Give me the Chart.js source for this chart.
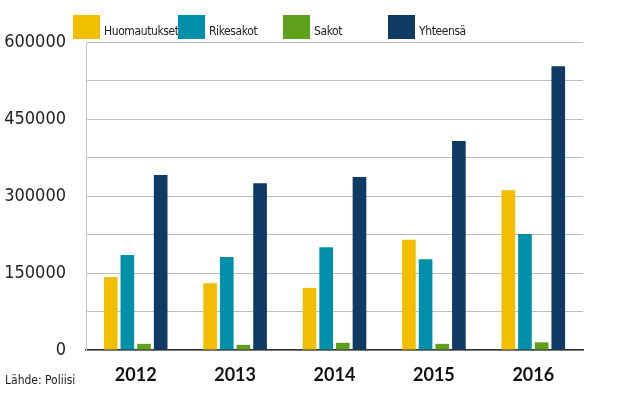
<!DOCTYPE html>
<html>
<head>
<meta charset="utf-8">
<script src="https://cdn.jsdelivr.net/npm/chart.js@4.4.1/dist/chart.umd.min.js"></script>
<style>
  html, body { margin: 0; padding: 0; background: #fff; }
  #wrap { position: relative; width: 617px; height: 396px; }
  #legend { position: absolute; left: 73px; top: 15px; font-family: "DejaVu Sans Condensed", Lato, sans-serif; font-size: 12px; letter-spacing: -0.4px; color: #222; }
  .item { position: absolute; top: 0; white-space: nowrap; }
  .box { position: absolute; left: 0; top: 0; width: 27px; height: 24px; }
  .txt { position: absolute; left: 31px; top: 9px; }
  #source { position: absolute; left: 5px; top: 373px; font-family: "DejaVu Sans Condensed", Lato, sans-serif; font-size: 12px; color: #222; }
</style>
</head>
<body>
<div id="wrap">
  <canvas id="c" width="617" height="396"></canvas>
  <div id="legend"></div>
  <div id="source">Lähde: Poliisi</div>
</div>
<script>
const years = ['2012', '2013', '2014', '2015', '2016'];
const seriesNames = ['Huomautukset', 'Rikesakot', 'Sakot', 'Yhteensä'];
const huomautukset = [142000, 130000, 121000, 215000, 311000];
const rikesakot = [185000, 181000, 200000, 177000, 226000];
const sakot = [12000, 10000, 14000, 12000, 15000];
const yhteensa = [341000, 325000, 337000, 407000, 553000];
const colors = ['#F2BE00', '#0090AA', '#5FA01A', '#0E3A63'];

const values = [huomautukset, rikesakot, sakot, yhteensa];

// html legend, evenly spaced like the original
const legend = document.getElementById('legend');
seriesNames.forEach((name, i) => {
    const item = document.createElement('div');
    item.className = 'item';
    item.style.left = (i * 105) + 'px';
    item.innerHTML = '<div class="box" style="background:' + colors[i] + '"></div><div class="txt">' + name + '</div>';
    legend.appendChild(item);
});

new Chart(document.getElementById('c'), {
    type: 'bar',
    data: {
        labels: years,
        datasets: seriesNames.map((name, i) => ({
            label: name,
            data: values[i],
            backgroundColor: colors[i],
            borderWidth: 0,
            barPercentage: 0.82,
            categoryPercentage: 0.67
        }))
    },
    options: {
        responsive: false,
        animation: false,
        layout: { padding: { top: 42, right: 34, left: 0, bottom: 0 } },
        plugins: { legend: { display: false }, tooltip: { enabled: false } },
        scales: {
            x: {
                grid: { display: false, drawTicks: false },
                border: { color: '#333', width: 1.5 },
                ticks: {
                    padding: 14,
                    color: '#111',
                    font: { family: 'Lato', size: 18, weight: 'bold' }
                },
                afterFit: s => { s.height = 46; }
            },
            y: {
                min: 0,
                max: 600000,
                grid: { color: '#bdbdbd', drawTicks: false },
                border: { color: '#c8c8c8' },
                ticks: {
                    stepSize: 75000,
                    padding: 20,
                    color: '#222',
                    font: { family: "'DejaVu Sans Condensed', Lato", size: 18 },
                    callback: v => (v % 150000 === 0 ? String(v) : '')
                },
                afterFit: s => { s.width = 86; }
            }
        }
    }
});
</script>
</body>
</html>
